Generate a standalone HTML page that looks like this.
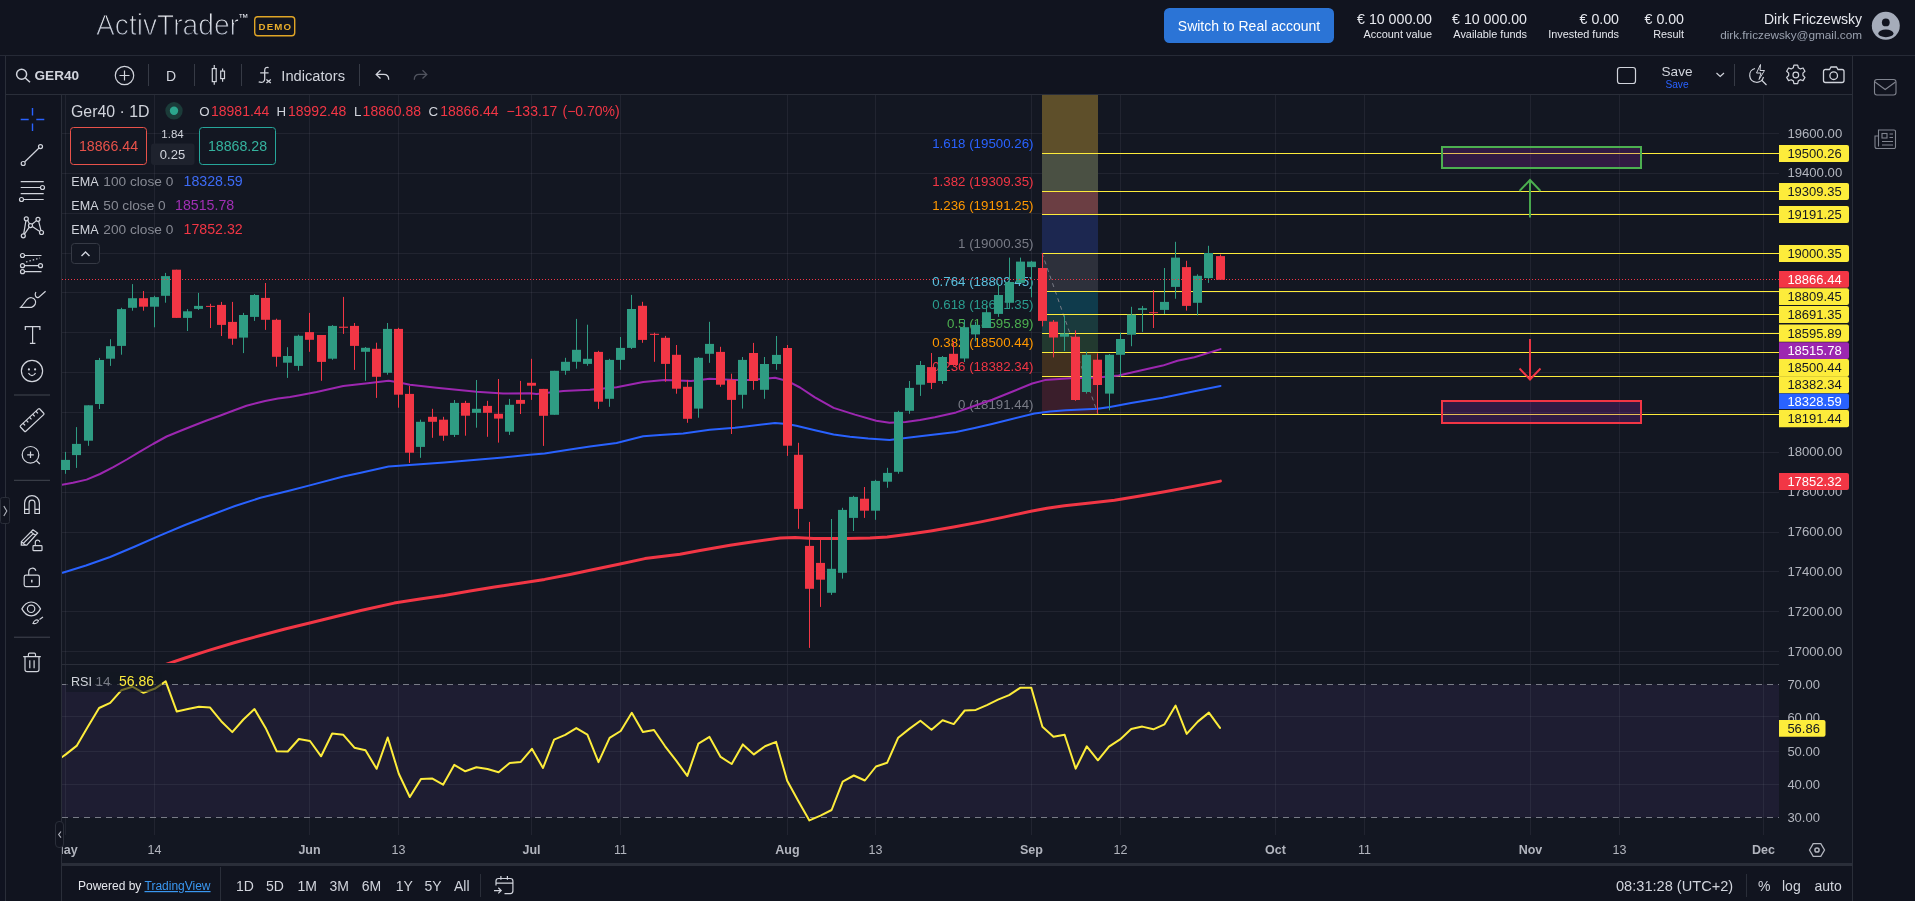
<!DOCTYPE html>
<html lang="en"><head><meta charset="utf-8"><title>ActivTrader</title>
<style>
*{box-sizing:border-box;margin:0;padding:0}
html,body{width:1915px;height:901px;overflow:hidden;background:#131722;font-family:"Liberation Sans", sans-serif;color:#d1d4dc}
.abs{position:absolute}
#hdr{position:absolute;left:0;top:0;width:1915px;height:56px;background:#11141f;border-bottom:1px solid #262a36}
#tb{position:absolute;left:5px;top:56px;width:1847px;height:39px;background:#11141f;border-bottom:1px solid #2a2e39;border-left:1px solid #2a2e39}
#gut{position:absolute;left:0;top:56px;width:5px;height:845px;background:#101320}
#lt{position:absolute;left:5px;top:95px;width:57px;height:806px;background:#11141f;border-left:1px solid #2a2e39;border-right:1px solid #2a2e39}
#rs{position:absolute;left:1852px;top:56px;width:63px;height:845px;background:#10131e;border-left:1px solid #2a2e39}
#bb{position:absolute;left:61px;top:863px;width:1791px;height:38px;background:#11141f;border-top:3px solid #2a2e39;border-left:1px solid #2a2e39}
svg.chart{position:absolute;left:0;top:0;will-change:transform}
svg.ui{position:absolute;left:0;top:0;pointer-events:none;will-change:transform}
.t{position:absolute;white-space:nowrap}
</style></head><body>
<div id="hdr"></div><div id="gut"></div><div id="tb"></div><div id="lt"></div>
<svg class="chart" width="1915" height="901" viewBox="0 0 1915 901" font-family='"Liberation Sans", sans-serif' shape-rendering="auto"><line x1="62" x2="1779" y1="651.5" y2="651.5" stroke="#9da1ae" stroke-opacity="0.1"/>
<line x1="62" x2="1779" y1="611.5" y2="611.5" stroke="#9da1ae" stroke-opacity="0.1"/>
<line x1="62" x2="1779" y1="571.5" y2="571.5" stroke="#9da1ae" stroke-opacity="0.1"/>
<line x1="62" x2="1779" y1="532.5" y2="532.5" stroke="#9da1ae" stroke-opacity="0.1"/>
<line x1="62" x2="1779" y1="492.5" y2="492.5" stroke="#9da1ae" stroke-opacity="0.1"/>
<line x1="62" x2="1779" y1="452.5" y2="452.5" stroke="#9da1ae" stroke-opacity="0.1"/>
<line x1="62" x2="1779" y1="412.5" y2="412.5" stroke="#9da1ae" stroke-opacity="0.1"/>
<line x1="62" x2="1779" y1="372.5" y2="372.5" stroke="#9da1ae" stroke-opacity="0.1"/>
<line x1="62" x2="1779" y1="332.5" y2="332.5" stroke="#9da1ae" stroke-opacity="0.1"/>
<line x1="62" x2="1779" y1="292.5" y2="292.5" stroke="#9da1ae" stroke-opacity="0.1"/>
<line x1="62" x2="1779" y1="253.5" y2="253.5" stroke="#9da1ae" stroke-opacity="0.1"/>
<line x1="62" x2="1779" y1="213.5" y2="213.5" stroke="#9da1ae" stroke-opacity="0.1"/>
<line x1="62" x2="1779" y1="173.5" y2="173.5" stroke="#9da1ae" stroke-opacity="0.1"/>
<line x1="62" x2="1779" y1="133.5" y2="133.5" stroke="#9da1ae" stroke-opacity="0.1"/>
<rect x="62" y="684.5" width="1717" height="133" fill="#7e57c2" fill-opacity="0.1"/>
<line x1="62" x2="1779" y1="716.5" y2="716.5" stroke="#9da1ae" stroke-opacity="0.1"/>
<line x1="62" x2="1779" y1="751.5" y2="751.5" stroke="#9da1ae" stroke-opacity="0.1"/>
<line x1="62" x2="1779" y1="784.5" y2="784.5" stroke="#9da1ae" stroke-opacity="0.1"/>
<line x1="65.5" x2="65.5" y1="95" y2="835" stroke="#9da1ae" stroke-opacity="0.1"/>
<line x1="154.5" x2="154.5" y1="95" y2="835" stroke="#9da1ae" stroke-opacity="0.1"/>
<line x1="309.5" x2="309.5" y1="95" y2="835" stroke="#9da1ae" stroke-opacity="0.1"/>
<line x1="398.5" x2="398.5" y1="95" y2="835" stroke="#9da1ae" stroke-opacity="0.1"/>
<line x1="531.5" x2="531.5" y1="95" y2="835" stroke="#9da1ae" stroke-opacity="0.1"/>
<line x1="620.5" x2="620.5" y1="95" y2="835" stroke="#9da1ae" stroke-opacity="0.1"/>
<line x1="787.5" x2="787.5" y1="95" y2="835" stroke="#9da1ae" stroke-opacity="0.1"/>
<line x1="875.5" x2="875.5" y1="95" y2="835" stroke="#9da1ae" stroke-opacity="0.1"/>
<line x1="1031.5" x2="1031.5" y1="95" y2="835" stroke="#9da1ae" stroke-opacity="0.1"/>
<line x1="1120.5" x2="1120.5" y1="95" y2="835" stroke="#9da1ae" stroke-opacity="0.1"/>
<line x1="1275.5" x2="1275.5" y1="95" y2="835" stroke="#9da1ae" stroke-opacity="0.1"/>
<line x1="1364.5" x2="1364.5" y1="95" y2="835" stroke="#9da1ae" stroke-opacity="0.1"/>
<line x1="1530.5" x2="1530.5" y1="95" y2="835" stroke="#9da1ae" stroke-opacity="0.1"/>
<line x1="1619.5" x2="1619.5" y1="95" y2="835" stroke="#9da1ae" stroke-opacity="0.1"/>
<line x1="1763.5" x2="1763.5" y1="95" y2="835" stroke="#9da1ae" stroke-opacity="0.1"/>
<line x1="62" x2="1779" y1="684.5" y2="684.5" stroke="#787b86" stroke-dasharray="6 5"/>
<line x1="62" x2="1779" y1="817.5" y2="817.5" stroke="#787b86" stroke-dasharray="6 5"/>
<rect x="1042" y="95" width="56" height="58.5" fill="#5e4f2a"/>
<rect x="1042" y="153.5" width="56" height="38" fill="#4a5043"/>
<rect x="1042" y="191.5" width="56" height="23" fill="#6b3e43"/>
<rect x="1042" y="214.5" width="56" height="39" fill="#1c2750"/>
<rect x="1042" y="253.5" width="56" height="38" fill="#2d303b"/>
<rect x="1042" y="291.5" width="56" height="23" fill="#0f3b4c"/>
<rect x="1042" y="314.5" width="56" height="19" fill="#1a3a3d"/>
<rect x="1042" y="333.5" width="56" height="19" fill="#22392f"/>
<rect x="1042" y="352.5" width="56" height="24" fill="#41301f"/>
<rect x="1042" y="376.5" width="56" height="38" fill="#3a1e2b"/>
<line x1="1042" y1="253" x2="1098" y2="414.2" stroke="#787b86" stroke-dasharray="4 4"/>
<line x1="1042" x2="1779" y1="153.5" y2="153.5" stroke="#fdec3b" stroke-width="1.15"/>
<line x1="1042" x2="1779" y1="191.5" y2="191.5" stroke="#fdec3b" stroke-width="1.15"/>
<line x1="1042" x2="1779" y1="214.5" y2="214.5" stroke="#fdec3b" stroke-width="1.15"/>
<line x1="1042" x2="1779" y1="253.5" y2="253.5" stroke="#fdec3b" stroke-width="1.15"/>
<line x1="1042" x2="1779" y1="291.5" y2="291.5" stroke="#fdec3b" stroke-width="1.15"/>
<line x1="1042" x2="1779" y1="314.5" y2="314.5" stroke="#fdec3b" stroke-width="1.15"/>
<line x1="1042" x2="1779" y1="333.5" y2="333.5" stroke="#fdec3b" stroke-width="1.15"/>
<line x1="1042" x2="1779" y1="352.5" y2="352.5" stroke="#fdec3b" stroke-width="1.15"/>
<line x1="1042" x2="1779" y1="376.5" y2="376.5" stroke="#fdec3b" stroke-width="1.15"/>
<line x1="1042" x2="1779" y1="414.5" y2="414.5" stroke="#fdec3b" stroke-width="1.15"/>
<text x="1033.5" y="148.4" fill="#2962ff" font-size="13.3" text-anchor="end">1.618 (19500.26)</text>
<text x="1033.5" y="186.4" fill="#f23645" font-size="13.3" text-anchor="end">1.382 (19309.35)</text>
<text x="1033.5" y="209.9" fill="#ff9800" font-size="13.3" text-anchor="end">1.236 (19191.25)</text>
<text x="1033.5" y="248" fill="#787b86" font-size="13.3" text-anchor="end">1 (19000.35)</text>
<text x="1033.5" y="286" fill="#5bc0de" font-size="13.3" text-anchor="end">0.764 (18809.45)</text>
<text x="1033.5" y="308.6" fill="#2a9d8f" font-size="13.3" text-anchor="end">0.618 (18691.35)</text>
<text x="1033.5" y="327.7" fill="#4caf50" font-size="13.3" text-anchor="end">0.5 (18595.89)</text>
<text x="1033.5" y="346.7" fill="#ff9800" font-size="13.3" text-anchor="end">0.382 (18500.44)</text>
<text x="1033.5" y="371.1" fill="#f23645" font-size="13.3" text-anchor="end">0.236 (18382.34)</text>
<text x="1033.5" y="409.2" fill="#787b86" font-size="13.3" text-anchor="end">0 (18191.44)</text>
<rect x="1442" y="147" width="199" height="21" fill="#9c27b0" fill-opacity="0.23" stroke="#4caf50" stroke-width="2"/>
<rect x="1442" y="401" width="199" height="22" fill="#9c27b0" fill-opacity="0.23" stroke="#f23645" stroke-width="2"/>
<path d="M1530 217.5V180M1519.5 191L1530 180L1540.5 191" fill="none" stroke="#4caf50" stroke-width="1.9"/>
<path d="M1530 339V379.5M1519.5 368.5L1530 379.5L1540.5 368.5" fill="none" stroke="#f23645" stroke-width="1.9"/>
<clipPath id="mp"><rect x="62" y="95" width="1717" height="568"/></clipPath>
<g clip-path="url(#mp)">
<polyline points="60,485 73,482.8 86.6,479.6 100,474 113.3,467.1 126.8,459.5 139.9,451.7 153,444 166.6,436.5 180,431 193.2,425.8 206,420.8 219.8,415.7 233,410.7 246.5,405.8 258,402.7 265.1,401 278,398.6 290,397 299.7,395.2 316.6,392 343.3,386 369.9,383 388.6,380.8 398,382.3 409.9,384.8 436.5,387.7 476.5,391.7 503.1,393.6 529.7,393.3 536.6,394 563.3,391 589.9,389.7 616.6,387.3 643.2,382 664.5,379.9 691.1,380.9 709.8,378.8 735,379.9 749.7,379.9 775,377.8 788.3,381.3 800,387.5 814.9,397.3 833.6,407.9 854.9,414.6 876.2,420.7 889.5,422.8 905.5,422 920,420 934.8,417.2 956.1,412.4 974.7,405.8 992.2,399.8 1013.3,391.3 1032.2,383.5 1044.9,380.1 1070.2,378.2 1097.6,377.6 1118.7,375.5 1141.6,370.2 1162.7,365.6 1177.5,360.7 1194.4,357.2 1220.5,349.1" fill="none" stroke="#9c27b0" stroke-width="2" stroke-linejoin="round" stroke-linecap="round"/>
<polyline points="62.7,572.7 86,565.5 110.1,557 135,546.5 160.3,535.3 185,525 210.4,515.2 235,506 260.5,497.8 290,490.5 310.7,485.1 343.3,476.5 360.8,472.8 388.6,466.6 399.2,465.8 420,464.3 444.4,462.6 476.5,459.7 503.1,457.5 529.7,454.8 544.6,453.4 570,449.5 589.9,446.5 616.6,443 643.2,436.3 660,435 683.2,433.4 709.8,429.7 735,427.7 749.7,425.9 775,423.1 787,424 796.3,425.8 815,430.3 833.6,434.5 850,436.8 868.2,438.5 889.5,439.9 905.5,438 920,436.3 934.8,434.5 956.1,431.9 974.7,427.9 992,424 1009,419.8 1034.4,413.5 1050,411.6 1066,410.3 1097.6,408.8 1110,406.9 1131.1,402.9 1162.7,397.7 1194.4,391.3 1220.5,386" fill="none" stroke="#2962ff" stroke-width="2" stroke-linejoin="round" stroke-linecap="round"/>
<polyline points="160,666 165.3,664.6 185,658 210.4,649.9 235,642.5 260.5,635.5 285,629 310.7,622.8 335,616.7 360.8,610.5 394.2,603.1 420,599 444.4,595.4 470,591 494.5,587.1 520,583.3 544.6,579.4 570,574.5 594.8,569.3 620,564 644.9,558.6 680,554.3 700,550.5 730.1,545.3 755,541.5 780.3,537.9 795,537.6 813.7,538.4 847.1,538.6 870,537.9 887.2,536.9 910,534 930.7,530.9 955,526.8 980.8,521.9 1005,516.9 1030.9,511.2 1047,508.3 1064.4,505.8 1090,502.9 1114.5,500.2 1140,496 1164.6,491.8 1192,486.6 1220.4,481.1" fill="none" stroke="#f23645" stroke-width="3" stroke-linejoin="round" stroke-linecap="round"/>
</g>
<rect x="65" y="451.9" width="1" height="21.9" fill="#2f9c83"/><rect x="61" y="459.9" width="9" height="10.1" fill="#2f9c83"/>
<rect x="76" y="427.1" width="1" height="40.8" fill="#2f9c83"/><rect x="72" y="443.9" width="9" height="11.2" fill="#2f9c83"/>
<rect x="88" y="405.3" width="1" height="40.5" fill="#2f9c83"/><rect x="84" y="405.3" width="9" height="35.4" fill="#2f9c83"/>
<rect x="99" y="357.9" width="1" height="51.1" fill="#2f9c83"/><rect x="95" y="360" width="9" height="44" fill="#2f9c83"/>
<rect x="110" y="339.2" width="1" height="26.7" fill="#2f9c83"/><rect x="106" y="346.2" width="9" height="12.5" fill="#2f9c83"/>
<rect x="121" y="307.8" width="1" height="46.9" fill="#2f9c83"/><rect x="117" y="309.1" width="9" height="36.8" fill="#2f9c83"/>
<rect x="132" y="284.1" width="1" height="26.6" fill="#2f9c83"/><rect x="128" y="298.2" width="9" height="9.6" fill="#2f9c83"/>
<rect x="143" y="291" width="1" height="19.7" fill="#f23645"/><rect x="139" y="298.2" width="9" height="8.5" fill="#f23645"/>
<rect x="154" y="295.8" width="1" height="31.5" fill="#2f9c83"/><rect x="150" y="297.1" width="9" height="9.6" fill="#2f9c83"/>
<rect x="165" y="272.9" width="1" height="29.8" fill="#2f9c83"/><rect x="161" y="276.1" width="9" height="19.7" fill="#2f9c83"/>
<rect x="176" y="269.7" width="1" height="48.2" fill="#f23645"/><rect x="172" y="269.7" width="9" height="48.2" fill="#f23645"/>
<rect x="187" y="309.1" width="1" height="21.9" fill="#2f9c83"/><rect x="183" y="311.3" width="9" height="6.6" fill="#2f9c83"/>
<rect x="198" y="292.9" width="1" height="17" fill="#2f9c83"/><rect x="194" y="305.9" width="9" height="3" fill="#2f9c83"/>
<rect x="210" y="303.8" width="1" height="24.2" fill="#f23645"/><rect x="206" y="305.9" width="9" height="1" fill="#f23645"/>
<rect x="221" y="301.9" width="1" height="34.1" fill="#f23645"/><rect x="217" y="304.9" width="9" height="20" fill="#f23645"/>
<rect x="232" y="301.9" width="1" height="42.9" fill="#f23645"/><rect x="228" y="321.9" width="9" height="16.8" fill="#f23645"/>
<rect x="243" y="312.9" width="1" height="40.2" fill="#2f9c83"/><rect x="239" y="315" width="9" height="22.6" fill="#2f9c83"/>
<rect x="254" y="294" width="1" height="26.9" fill="#2f9c83"/><rect x="250" y="295" width="9" height="21.9" fill="#2f9c83"/>
<rect x="265" y="283" width="1" height="46.9" fill="#f23645"/><rect x="261" y="297.9" width="9" height="21.9" fill="#f23645"/>
<rect x="276" y="318.7" width="1" height="48" fill="#f23645"/><rect x="272" y="319.8" width="9" height="37" fill="#f23645"/>
<rect x="287" y="347.2" width="1" height="30.7" fill="#2f9c83"/><rect x="283" y="356" width="9" height="6.7" fill="#2f9c83"/>
<rect x="298" y="334.7" width="1" height="36" fill="#2f9c83"/><rect x="294" y="335.8" width="9" height="30.1" fill="#2f9c83"/>
<rect x="309" y="312.9" width="1" height="38.9" fill="#f23645"/><rect x="305" y="332.1" width="9" height="7.7" fill="#f23645"/>
<rect x="321" y="335" width="1" height="45.8" fill="#f23645"/><rect x="317" y="335" width="9" height="26.9" fill="#f23645"/>
<rect x="332" y="325.1" width="1" height="34.7" fill="#2f9c83"/><rect x="328" y="325.9" width="9" height="32.8" fill="#2f9c83"/>
<rect x="343" y="296.9" width="1" height="37" fill="#f23645"/><rect x="339" y="326.7" width="9" height="1.1" fill="#f23645"/>
<rect x="354" y="323" width="1" height="46.9" fill="#f23645"/><rect x="350" y="325.9" width="9" height="20" fill="#f23645"/>
<rect x="365" y="347" width="1" height="33.8" fill="#2f9c83"/><rect x="361" y="347.8" width="9" height="4" fill="#2f9c83"/>
<rect x="376" y="342.7" width="1" height="55.2" fill="#f23645"/><rect x="372" y="348.8" width="9" height="28" fill="#f23645"/>
<rect x="387" y="323" width="1" height="51.7" fill="#2f9c83"/><rect x="383" y="328.9" width="9" height="43.9" fill="#2f9c83"/>
<rect x="398" y="327.8" width="1" height="79.9" fill="#f23645"/><rect x="394" y="328.9" width="9" height="65.8" fill="#f23645"/>
<rect x="409" y="385.9" width="1" height="77" fill="#f23645"/><rect x="405" y="393.9" width="9" height="58.8" fill="#f23645"/>
<rect x="420" y="419.7" width="1" height="38.1" fill="#2f9c83"/><rect x="416" y="421.8" width="9" height="25.1" fill="#2f9c83"/>
<rect x="432" y="408.8" width="1" height="29" fill="#f23645"/><rect x="428" y="416.8" width="9" height="5" fill="#f23645"/>
<rect x="443" y="416.8" width="1" height="24" fill="#f23645"/><rect x="439" y="419.7" width="9" height="16" fill="#f23645"/>
<rect x="454" y="400" width="1" height="37" fill="#2f9c83"/><rect x="450" y="402.9" width="9" height="32" fill="#2f9c83"/>
<rect x="465" y="400.8" width="1" height="34.9" fill="#f23645"/><rect x="461" y="402.9" width="9" height="12.8" fill="#f23645"/>
<rect x="476" y="380" width="1" height="47.7" fill="#2f9c83"/><rect x="472" y="408.8" width="9" height="4" fill="#2f9c83"/>
<rect x="487" y="400.8" width="1" height="36" fill="#f23645"/><rect x="483" y="405.9" width="9" height="6.9" fill="#f23645"/>
<rect x="498" y="379" width="1" height="63.6" fill="#f23645"/><rect x="494" y="413.8" width="9" height="4.8" fill="#f23645"/>
<rect x="509" y="398.9" width="1" height="36" fill="#2f9c83"/><rect x="505" y="404.8" width="9" height="26.9" fill="#2f9c83"/>
<rect x="520" y="380.9" width="1" height="33.1" fill="#f23645"/><rect x="516" y="399.9" width="9" height="3.9" fill="#f23645"/>
<rect x="531" y="358.8" width="1" height="41.1" fill="#f23645"/><rect x="527" y="382.8" width="9" height="2.9" fill="#f23645"/>
<rect x="543" y="388.9" width="1" height="57" fill="#f23645"/><rect x="539" y="388.9" width="9" height="26.9" fill="#f23645"/>
<rect x="554" y="370.8" width="1" height="44" fill="#2f9c83"/><rect x="550" y="370.8" width="9" height="44" fill="#2f9c83"/>
<rect x="565" y="357.8" width="1" height="17" fill="#2f9c83"/><rect x="561" y="361.8" width="9" height="9" fill="#2f9c83"/>
<rect x="576" y="318.9" width="1" height="49.8" fill="#2f9c83"/><rect x="572" y="349.8" width="9" height="12" fill="#2f9c83"/>
<rect x="587" y="324.7" width="1" height="41.1" fill="#2f9c83"/><rect x="583" y="358.8" width="9" height="5.1" fill="#2f9c83"/>
<rect x="598" y="350.8" width="1" height="58.1" fill="#f23645"/><rect x="594" y="351.9" width="9" height="49.8" fill="#f23645"/>
<rect x="609" y="358.8" width="1" height="48" fill="#2f9c83"/><rect x="605" y="359.9" width="9" height="38.9" fill="#2f9c83"/>
<rect x="620" y="337" width="1" height="32.8" fill="#2f9c83"/><rect x="616" y="347.9" width="9" height="12" fill="#2f9c83"/>
<rect x="631" y="294.9" width="1" height="54.1" fill="#2f9c83"/><rect x="627" y="309" width="9" height="38.9" fill="#2f9c83"/>
<rect x="642" y="301.8" width="1" height="41" fill="#f23645"/><rect x="638" y="305.8" width="9" height="34.1" fill="#f23645"/>
<rect x="654" y="332.7" width="1" height="29.1" fill="#f23645"/><rect x="650" y="333.8" width="9" height="1.1" fill="#f23645"/>
<rect x="665" y="335.9" width="1" height="45.8" fill="#f23645"/><rect x="661" y="337.8" width="9" height="26.1" fill="#f23645"/>
<rect x="676" y="345" width="1" height="48.7" fill="#f23645"/><rect x="672" y="354.8" width="9" height="33.9" fill="#f23645"/>
<rect x="687" y="379.9" width="1" height="42.9" fill="#f23645"/><rect x="683" y="386.8" width="9" height="32" fill="#f23645"/>
<rect x="698" y="357" width="1" height="60.7" fill="#2f9c83"/><rect x="694" y="357.8" width="9" height="50.8" fill="#2f9c83"/>
<rect x="709" y="321.8" width="1" height="41" fill="#2f9c83"/><rect x="705" y="343.9" width="9" height="9.9" fill="#2f9c83"/>
<rect x="720" y="346.8" width="1" height="40" fill="#f23645"/><rect x="716" y="351.9" width="9" height="32.8" fill="#f23645"/>
<rect x="731" y="373.7" width="1" height="60.3" fill="#f23645"/><rect x="727" y="379.9" width="9" height="20" fill="#f23645"/>
<rect x="742" y="357" width="1" height="51.6" fill="#2f9c83"/><rect x="738" y="359.9" width="9" height="34.9" fill="#2f9c83"/>
<rect x="753" y="342.9" width="1" height="46.9" fill="#f23645"/><rect x="749" y="353" width="9" height="28" fill="#f23645"/>
<rect x="764" y="357" width="1" height="41.8" fill="#2f9c83"/><rect x="760" y="364" width="9" height="25.8" fill="#2f9c83"/>
<rect x="776" y="336" width="1" height="33.8" fill="#2f9c83"/><rect x="772" y="354.9" width="9" height="9.1" fill="#2f9c83"/>
<rect x="787" y="345" width="1" height="110.9" fill="#f23645"/><rect x="783" y="348" width="9" height="97.7" fill="#f23645"/>
<rect x="798" y="442.8" width="1" height="86" fill="#f23645"/><rect x="794" y="454.8" width="9" height="54.1" fill="#f23645"/>
<rect x="809" y="521.9" width="1" height="126" fill="#f23645"/><rect x="805" y="545.9" width="9" height="42.9" fill="#f23645"/>
<rect x="820" y="539" width="1" height="67.9" fill="#f23645"/><rect x="816" y="562.9" width="9" height="16.8" fill="#f23645"/>
<rect x="831" y="519" width="1" height="75.9" fill="#2f9c83"/><rect x="827" y="568.8" width="9" height="24" fill="#2f9c83"/>
<rect x="842" y="507.8" width="1" height="70.8" fill="#2f9c83"/><rect x="838" y="509.9" width="9" height="62.9" fill="#2f9c83"/>
<rect x="853" y="495.8" width="1" height="35.2" fill="#2f9c83"/><rect x="849" y="496.9" width="9" height="21" fill="#2f9c83"/>
<rect x="864" y="487" width="1" height="30.9" fill="#f23645"/><rect x="860" y="498.7" width="9" height="12" fill="#f23645"/>
<rect x="875" y="479.8" width="1" height="40" fill="#2f9c83"/><rect x="871" y="480.9" width="9" height="29.8" fill="#2f9c83"/>
<rect x="887" y="467.8" width="1" height="20" fill="#2f9c83"/><rect x="883" y="472.9" width="9" height="8.8" fill="#2f9c83"/>
<rect x="898" y="410.8" width="1" height="62.9" fill="#2f9c83"/><rect x="894" y="411.9" width="9" height="59.9" fill="#2f9c83"/>
<rect x="909" y="381" width="1" height="32.8" fill="#2f9c83"/><rect x="905" y="387.9" width="9" height="22.9" fill="#2f9c83"/>
<rect x="920" y="361" width="1" height="34.9" fill="#2f9c83"/><rect x="916" y="365" width="9" height="19.7" fill="#2f9c83"/>
<rect x="931" y="353" width="1" height="36" fill="#f23645"/><rect x="927" y="367.1" width="9" height="15.8" fill="#f23645"/>
<rect x="942" y="356" width="1" height="27.9" fill="#2f9c83"/><rect x="938" y="357" width="9" height="24" fill="#2f9c83"/>
<rect x="953" y="341" width="1" height="24.8" fill="#f23645"/><rect x="949" y="353.8" width="9" height="11.2" fill="#f23645"/>
<rect x="964" y="320" width="1" height="42" fill="#2f9c83"/><rect x="960" y="327.2" width="9" height="31.3" fill="#2f9c83"/>
<rect x="975" y="321.7" width="1" height="19.6" fill="#2f9c83"/><rect x="971" y="324.9" width="9" height="9.5" fill="#2f9c83"/>
<rect x="986" y="306" width="1" height="22" fill="#2f9c83"/><rect x="982" y="312.2" width="9" height="15.8" fill="#2f9c83"/>
<rect x="998" y="283.8" width="1" height="33.1" fill="#2f9c83"/><rect x="994" y="295" width="9" height="18.9" fill="#2f9c83"/>
<rect x="1009" y="257.6" width="1" height="51.4" fill="#2f9c83"/><rect x="1005" y="282" width="9" height="20.8" fill="#2f9c83"/>
<rect x="1020" y="257.6" width="1" height="25.4" fill="#2f9c83"/><rect x="1016" y="261.6" width="9" height="21.3" fill="#2f9c83"/>
<rect x="1031" y="260.8" width="1" height="36.5" fill="#2f9c83"/><rect x="1027" y="261.6" width="9" height="5.5" fill="#2f9c83"/>
<rect x="1042" y="253" width="1" height="73.4" fill="#f23645"/><rect x="1038" y="268" width="9" height="52.9" fill="#f23645"/>
<rect x="1053" y="320" width="1" height="37.4" fill="#f23645"/><rect x="1049" y="321.7" width="9" height="15.8" fill="#f23645"/>
<rect x="1064" y="315.4" width="1" height="35.6" fill="#2f9c83"/><rect x="1060" y="333.5" width="9" height="3.2" fill="#2f9c83"/>
<rect x="1075" y="330.4" width="1" height="70.4" fill="#f23645"/><rect x="1071" y="336.7" width="9" height="63.3" fill="#f23645"/>
<rect x="1086" y="351.7" width="1" height="41.9" fill="#2f9c83"/><rect x="1082" y="354.8" width="9" height="37.2" fill="#2f9c83"/>
<rect x="1097" y="353.4" width="1" height="60.1" fill="#f23645"/><rect x="1093" y="359.7" width="9" height="25.3" fill="#f23645"/>
<rect x="1109" y="354" width="1" height="56.3" fill="#2f9c83"/><rect x="1105" y="354.8" width="9" height="38.8" fill="#2f9c83"/>
<rect x="1120" y="332.7" width="1" height="44.3" fill="#2f9c83"/><rect x="1116" y="339" width="9" height="15.8" fill="#2f9c83"/>
<rect x="1131" y="306.8" width="1" height="39.4" fill="#2f9c83"/><rect x="1127" y="314.6" width="9" height="20.1" fill="#2f9c83"/>
<rect x="1142" y="305.9" width="1" height="26" fill="#2f9c83"/><rect x="1138" y="308.2" width="9" height="1.7" fill="#2f9c83"/>
<rect x="1153" y="290.1" width="1" height="37.9" fill="#f23645"/><rect x="1149" y="312.2" width="9" height="1" fill="#f23645"/>
<rect x="1164" y="268" width="1" height="45.9" fill="#2f9c83"/><rect x="1160" y="301.9" width="9" height="8" fill="#2f9c83"/>
<rect x="1175" y="241.8" width="1" height="56.9" fill="#2f9c83"/><rect x="1171" y="257.6" width="9" height="29.3" fill="#2f9c83"/>
<rect x="1186" y="260.8" width="1" height="49.8" fill="#f23645"/><rect x="1182" y="267.1" width="9" height="38.8" fill="#f23645"/>
<rect x="1197" y="274.3" width="1" height="41.1" fill="#2f9c83"/><rect x="1193" y="275.8" width="9" height="27" fill="#2f9c83"/>
<rect x="1208" y="245.8" width="1" height="37.1" fill="#2f9c83"/><rect x="1204" y="253" width="9" height="25.1" fill="#2f9c83"/>
<rect x="1220" y="254.5" width="1" height="25.3" fill="#f23645"/><rect x="1216" y="256.1" width="9" height="23.7" fill="#f23645"/>
<line x1="62" x2="1779" y1="279.5" y2="279.5" stroke="#f23645" stroke-dasharray="1 2"/>
<clipPath id="rp"><rect x="62" y="665" width="1717" height="171"/></clipPath><g clip-path="url(#rp)">
<polyline points="54.7,762.3 65.8,754.4 76.9,745.6 88,726.4 99.1,708 110.2,702.8 121.3,690.3 132.4,686.7 143.5,692.8 154.6,688.8 165.7,681.3 176.8,711.6 187.9,709.1 199,706.8 210.1,707.6 221.2,721.2 232.3,732.1 243.4,719.5 254.5,709.1 265.6,727.9 276.7,751.3 287.8,751.5 298.9,739 310,741 321.1,756.3 332.2,733.5 343.3,734.8 354.4,747.7 365.5,750.2 376.6,768.8 387.7,737.5 398.8,773.8 409.8,797 420.9,779.1 432,778.4 443.1,784.7 454.2,764.9 465.3,771.3 476.4,767.2 487.5,769 498.6,772.2 509.7,763 520.8,761.9 531.9,748.8 543,768 554.1,739.6 565.2,734.8 576.3,728.1 587.4,734.6 598.5,762.1 609.6,737.9 620.7,731 631.8,712.8 642.9,732.1 654,730 665.1,746.3 676.2,760.7 687.3,775.9 698.4,743.6 709.5,736.9 720.6,756.9 731.7,764 742.8,744.4 753.9,754.4 765,746.3 776.1,741.9 787.2,780.7 798.3,801 809.4,820.4 820.5,815.6 831.6,810 842.7,781.6 853.8,775.5 864.9,780.5 876,766.5 887.1,762.8 898.2,737.7 909.3,728.9 920.4,720.8 931.5,729.8 942.6,720.2 953.7,724.1 964.7,710.5 975.8,709.9 986.9,705.1 998,699.7 1009.1,695.1 1020.2,687.8 1031.3,687.8 1042.4,726.8 1053.5,736.7 1064.6,734.8 1075.7,768.6 1086.8,746.3 1097.9,760.3 1109,746.7 1120.1,739.4 1131.2,729.1 1142.3,726.6 1153.4,729.3 1164.5,724.3 1175.6,705.5 1186.7,733.9 1197.8,721.6 1208.9,712.6 1220,727.9" fill="none" stroke="#fdec3b" stroke-width="2" stroke-linejoin="round" stroke-linecap="round"/>
</g>
<rect x="66" y="672" width="96" height="20" fill="#131722" fill-opacity="0.6"/>
<text y="686" font-size="12.6" fill="#d1d4dc"><tspan x="71">RSI</tspan><tspan x="95.5" fill="#787b86" font-size="13.6">14</tspan><tspan x="119" fill="#fdec3b" font-size="14">56.86</tspan></text>
<rect x="62" y="664" width="1791" height="1" fill="#2a2e39"/>
<rect x="1779" y="95" width="74" height="568" fill="#131722"/>
<rect x="1779" y="664" width="74" height="172" fill="#131722"/>
<text x="1787.4" y="138.1" font-size="13.15" fill="#b2b5be">19600.00</text>
<text x="1787.4" y="176.9" font-size="13.15" fill="#b2b5be">19400.00</text>
<text x="1787.4" y="455.9" font-size="13.15" fill="#b2b5be">18000.00</text>
<text x="1787.4" y="495.8" font-size="13.15" fill="#b2b5be">17800.00</text>
<text x="1787.4" y="535.6" font-size="13.15" fill="#b2b5be">17600.00</text>
<text x="1787.4" y="575.5" font-size="13.15" fill="#b2b5be">17400.00</text>
<text x="1787.4" y="616.3" font-size="13.15" fill="#b2b5be">17200.00</text>
<text x="1787.4" y="656.2" font-size="13.15" fill="#b2b5be">17000.00</text>
<text x="1787.4" y="689.2" font-size="13" fill="#b2b5be">70.00</text>
<text x="1787.4" y="721.6" font-size="13" fill="#b2b5be">60.00</text>
<text x="1787.4" y="755.8" font-size="13" fill="#b2b5be">50.00</text>
<text x="1787.4" y="789" font-size="13" fill="#b2b5be">40.00</text>
<text x="1787.4" y="821.9" font-size="13" fill="#b2b5be">30.00</text>
<path d="M1779 145.1h68a2 2 0 0 1 2 2v12.8a2 2 0 0 1-2 2h-68z" fill="#fdec3b"/><text x="1787.4" y="158.1" font-size="13" fill="#131722">19500.26</text>
<path d="M1779 183.1h68a2 2 0 0 1 2 2v12.8a2 2 0 0 1-2 2h-68z" fill="#fdec3b"/><text x="1787.4" y="196.1" font-size="13" fill="#131722">19309.35</text>
<path d="M1779 206.1h68a2 2 0 0 1 2 2v12.8a2 2 0 0 1-2 2h-68z" fill="#fdec3b"/><text x="1787.4" y="219.1" font-size="13" fill="#131722">19191.25</text>
<path d="M1779 245.1h68a2 2 0 0 1 2 2v12.8a2 2 0 0 1-2 2h-68z" fill="#fdec3b"/><text x="1787.4" y="258.1" font-size="13" fill="#131722">19000.35</text>
<path d="M1779 288.2h68a2 2 0 0 1 2 2v12.8a2 2 0 0 1-2 2h-68z" fill="#fdec3b"/><text x="1787.4" y="301.2" font-size="13" fill="#131722">18809.45</text>
<path d="M1779 305.9h68a2 2 0 0 1 2 2v13.2a2 2 0 0 1-2 2h-68z" fill="#fdec3b"/><text x="1787.4" y="319.1" font-size="13" fill="#131722">18691.35</text>
<path d="M1779 324.6h68a2 2 0 0 1 2 2v13.2a2 2 0 0 1-2 2h-68z" fill="#fdec3b"/><text x="1787.4" y="337.8" font-size="13" fill="#131722">18595.89</text>
<path d="M1779 358.9h68a2 2 0 0 1 2 2v13.5a2 2 0 0 1-2 2h-68z" fill="#fdec3b"/><text x="1787.4" y="372.3" font-size="13" fill="#131722">18500.44</text>
<path d="M1779 376.3h68a2 2 0 0 1 2 2v13a2 2 0 0 1-2 2h-68z" fill="#fdec3b"/><text x="1787.4" y="389.4" font-size="13" fill="#131722">18382.34</text>
<path d="M1779 410h68a2 2 0 0 1 2 2v13.2a2 2 0 0 1-2 2h-68z" fill="#fdec3b"/><text x="1787.4" y="423.2" font-size="13" fill="#131722">18191.44</text>
<path d="M1779 270.9h68a2 2 0 0 1 2 2v12.8a2 2 0 0 1-2 2h-68z" fill="#f23645"/><text x="1787.4" y="283.9" font-size="13" fill="#ffffff">18866.44</text>
<path d="M1779 342.3h68a2 2 0 0 1 2 2v12.8a2 2 0 0 1-2 2h-68z" fill="#9c27b0"/><text x="1787.4" y="355.3" font-size="13" fill="#ffffff">18515.78</text>
<path d="M1779 393.6h68a2 2 0 0 1 2 2v11.5a2 2 0 0 1-2 2h-68z" fill="#2962ff"/><text x="1787.4" y="406" font-size="13" fill="#ffffff">18328.59</text>
<path d="M1779 473.1h68a2 2 0 0 1 2 2v13a2 2 0 0 1-2 2h-68z" fill="#f23645"/><text x="1787.4" y="486.2" font-size="13" fill="#ffffff">17852.32</text>
<path d="M1779 719.9h44.5a2 2 0 0 1 2 2v12.8a2 2 0 0 1-2 2h-44.5z" fill="#fdec3b"/><text x="1787.4" y="732.9" font-size="13" fill="#131722">56.86</text>
<rect x="62" y="836" width="1791" height="27" fill="#131722"/>
<clipPath id="tp"><rect x="62" y="836" width="1717" height="27"/></clipPath><g clip-path="url(#tp)">
<text x="65.5" y="854" font-size="12.5" fill="#b2b5be" text-anchor="middle" font-weight="bold">May</text>
<text x="154.5" y="854" font-size="12.5" fill="#b2b5be" text-anchor="middle">14</text>
<text x="309.5" y="854" font-size="12.5" fill="#b2b5be" text-anchor="middle" font-weight="bold">Jun</text>
<text x="398.5" y="854" font-size="12.5" fill="#b2b5be" text-anchor="middle">13</text>
<text x="531.5" y="854" font-size="12.5" fill="#b2b5be" text-anchor="middle" font-weight="bold">Jul</text>
<text x="620.5" y="854" font-size="12.5" fill="#b2b5be" text-anchor="middle">11</text>
<text x="787.5" y="854" font-size="12.5" fill="#b2b5be" text-anchor="middle" font-weight="bold">Aug</text>
<text x="875.5" y="854" font-size="12.5" fill="#b2b5be" text-anchor="middle">13</text>
<text x="1031.5" y="854" font-size="12.5" fill="#b2b5be" text-anchor="middle" font-weight="bold">Sep</text>
<text x="1120.5" y="854" font-size="12.5" fill="#b2b5be" text-anchor="middle">12</text>
<text x="1275.5" y="854" font-size="12.5" fill="#b2b5be" text-anchor="middle" font-weight="bold">Oct</text>
<text x="1364.5" y="854" font-size="12.5" fill="#b2b5be" text-anchor="middle">11</text>
<text x="1530.5" y="854" font-size="12.5" fill="#b2b5be" text-anchor="middle" font-weight="bold">Nov</text>
<text x="1619.5" y="854" font-size="12.5" fill="#b2b5be" text-anchor="middle">13</text>
<text x="1763.5" y="854" font-size="12.5" fill="#b2b5be" text-anchor="middle" font-weight="bold">Dec</text>
</g>
<g transform="translate(1817,850)" fill="none" stroke="#b2b5be" stroke-width="1.3"><path d="M-7.5 0L-3.8 -6.3H3.8L7.5 0L3.8 6.3H-3.8Z"/><circle r="2.1" stroke-width="1.5"/></g>
<text x="71" y="117" font-size="15.9" fill="#d1d4dc">Ger40 · 1D</text>
<circle cx="174" cy="110.8" r="8.7" fill="#1b3b39"/><circle cx="174" cy="110.8" r="4.2" fill="#2ca58d"/>
<text y="116" font-size="14" fill="#d1d4dc"><tspan x="199.3" font-size="13.3">O</tspan><tspan x="211" fill="#f23645">18981.44</tspan><tspan x="276.4" font-size="13.3">H</tspan><tspan x="288" fill="#f23645">18992.48</tspan><tspan x="353.9" font-size="13.3">L</tspan><tspan x="362.6" fill="#f23645">18860.88</tspan><tspan x="428.6" font-size="13.3">C</tspan><tspan x="440.2" fill="#f23645">18866.44</tspan><tspan x="506.4" fill="#f23645">−133.17</tspan><tspan x="562.5" fill="#f23645">(−0.70%)</tspan></text>
<rect x="70.5" y="127.5" width="76" height="37" rx="3" fill="#131722" stroke="#e8524a"/>
<text x="108.5" y="151" font-size="14.2" fill="#e8524a" text-anchor="middle">18866.44</text>
<rect x="199.5" y="127.5" width="76" height="37" rx="3" fill="#131722" stroke="#26a69a"/>
<text x="237.5" y="151" font-size="14.2" fill="#35b39e" text-anchor="middle">18868.28</text>
<text x="172.5" y="138" font-size="11.5" fill="#d1d4dc" text-anchor="middle">1.84</text>
<rect x="151" y="143.5" width="43.5" height="21.5" rx="3" fill="#1e222d"/>
<text x="172.5" y="159" font-size="13" fill="#d1d4dc" text-anchor="middle">0.25</text>
<text y="186" font-size="12.6" fill="#d1d4dc"><tspan x="71.3">EMA</tspan><tspan x="103.3" fill="#868993" font-size="13.7">100 close 0</tspan><tspan x="183.5" fill="#3d6bf5" font-size="14.2">18328.59</tspan></text>
<text y="210" font-size="12.6" fill="#d1d4dc"><tspan x="71.3">EMA</tspan><tspan x="103.3" fill="#868993" font-size="13.7">50 close 0</tspan><tspan x="175" fill="#a02fb4" font-size="14.2">18515.78</tspan></text>
<text y="234" font-size="12.6" fill="#d1d4dc"><tspan x="71.3">EMA</tspan><tspan x="103.3" fill="#868993" font-size="13.7">200 close 0</tspan><tspan x="183.5" fill="#f23645" font-size="14.2">17852.32</tspan></text>
<rect x="71.5" y="243.5" width="28" height="20" rx="3" fill="#131722" stroke="#363a45"/>
<path d="M81.5 256L85.5 252L89.5 256" fill="none" stroke="#d1d4dc" stroke-width="1.4"/></svg>
<div id="rs"></div><div id="bb"></div>
<svg class="ui" width="1915" height="901" viewBox="0 0 1915 901" font-family='"Liberation Sans", sans-serif'>
<defs>
<linearGradient id="lg" x1="0" y1="0" x2="0" y2="1"><stop offset="0" stop-color="#ffffff"/><stop offset="1" stop-color="#aab2c4"/></linearGradient>
</defs>
<!-- ===== header ===== -->
<text x="96" y="35.100" font-size="30.400" fill="url(#lg)" stroke="#11141f" stroke-width="1.050" paint-order="fill stroke" textLength="143" lengthAdjust="spacingAndGlyphs">ActivTrader</text>
<text x="238.300" y="21" font-size="10.200" fill="#e6e9f0">™</text>
<rect x="254.7" y="16.7" width="40" height="19" rx="3" fill="none" stroke="#e0a526" stroke-width="1.4"/>
<text x="275.400" y="30.100" font-size="9.700" font-weight="bold" fill="#e8ad2b" text-anchor="middle" letter-spacing="1.200">DEMO</text>

<rect x="1164" y="8" width="170" height="35" rx="5.500" fill="#2b74d6"/>
<text x="1249" y="31" font-size="14" fill="#ffffff" text-anchor="middle">Switch to Real account</text>

<g fill="#e6e8ee" text-anchor="end">
<text x="1432" y="24" font-size="14.200">€ 10 000.00</text>
<text x="1432" y="38" font-size="10.900">Account value</text>
<text x="1527" y="24" font-size="14.200">€ 10 000.00</text>
<text x="1527" y="38" font-size="10.900">Available funds</text>
<text x="1619" y="24" font-size="14.200">€ 0.00</text>
<text x="1619" y="38" font-size="10.900">Invested funds</text>
<text x="1684" y="24" font-size="14.200">€ 0.00</text>
<text x="1684" y="38" font-size="10.900">Result</text>
<text x="1862" y="24" font-size="14">Dirk Friczewsky</text>
<text x="1862" y="39" font-size="11.750" fill="#9aa1af">dirk.friczewsky@gmail.com</text>
</g>
<circle cx="1885.800" cy="25.800" r="14" fill="#a5acba"/>
<circle cx="1885.800" cy="22.400" r="3.900" fill="#11141f"/>
<ellipse cx="1885.900" cy="33.400" rx="7.600" ry="3.800" fill="#11141f"/>

<!-- ===== top toolbar ===== -->
<g fill="none" stroke="#d1d4dc" stroke-width="1.5">
<circle cx="21.6" cy="74.3" r="5"/><path d="M25.3 78L30 82.300"/>
<circle cx="124.500" cy="75.500" r="9.2" stroke-width="1.2"/><path d="M119.500 75.500H129.500M124.500 70.500V80.500" stroke-width="1.2"/>
</g>
<text x="34.5" y="80" font-size="13.6" font-weight="bold" fill="#d1d4dc">GER40</text>
<g stroke="#363a45" stroke-width="1"><path d="M148.500 64V86M194.500 64V86M241.500 64V86M359.500 64V86M1734.500 64V86"/></g>
<text x="171" y="81" font-size="14" fill="#d1d4dc" text-anchor="middle">D</text>
<!-- candle icon -->
<g fill="none" stroke="#d1d4dc" stroke-width="1.2"><rect x="212.300" y="68.600" width="3.900" height="13"/><path d="M214.250 65V68.600M214.250 81.600V84.800"/><rect x="220.700" y="71.100" width="3.800" height="7.500"/><path d="M222.600 68.500V71.100M222.600 78.600V81.700"/></g>
<!-- fx icon -->
<g fill="none" stroke="#d1d4dc" stroke-width="1.3"><path d="M268.600 67.700c-2.400-.900-3.900 .300-3.900 2.700v8.800c0 2.700-2.200 3.800-6 2.700M260.200 72.900h8.400"/><path d="M266.400 79.400l4.400 3.600M270.800 79.400l-4.400 3.600" stroke-width="1.300"/></g>
<text x="281.300" y="81" font-size="14.700" fill="#d1d4dc">Indicators</text>
<!-- undo / redo -->
<g fill="none" stroke-width="1.3"><path d="M380.500 70.300L376.200 74.400L380.500 78.500M376.200 74.400H383.800c3.200 0 4.900 1.900 4.900 5.300" stroke="#d1d4dc"/><path d="M422.500 70.300L426.800 74.400L422.500 78.500M426.800 74.400H419.200c-3.200 0-4.900 1.900-4.900 5.300" stroke="#50535e"/></g>
<!-- right side of toolbar -->
<rect x="1617.500" y="67.500" width="18" height="16" rx="2.500" fill="none" stroke="#d1d4dc" stroke-width="1.200"/>
<text x="1677" y="75.900" font-size="13.600" fill="#d1d4dc" text-anchor="middle">Save</text>
<text x="1677" y="88" font-size="10.200" fill="#2962ff" text-anchor="middle">Save</text>
<path d="M1716.500 73L1720.200 76.500L1724 73" fill="none" stroke="#d1d4dc" stroke-width="1.200"/>
<!-- quick search -->
<g fill="none" stroke="#d1d4dc" stroke-width="1.200"><path d="M1755 68.500a7 7 0 1 0 8.500 8.500M1762 80.500L1766.500 85"/><path d="M1760.500 64.500L1756.500 73H1761L1759 79.500L1764.500 70.500H1760Z" stroke-width="1"/></g>
<!-- gear -->
<g transform="translate(1795.800,75) scale(1.050)" fill="none" stroke="#d1d4dc" stroke-width="1.150"><circle r="2.700"/><path d="M-1.800-9.500h3.600l.6 2.600 2 1.100 2.500-.9 1.800 3.100-1.900 1.800v2.300l1.900 1.800-1.800 3.100-2.500-.9-2 1.100-.6 2.600h-3.600l-.6-2.600-2-1.100-2.500.9-1.800-3.100 1.900-1.800v-2.300l-1.900-1.800 1.800-3.100 2.500.9 2-1.100z" stroke-linejoin="round"/></g>
<!-- camera -->
<g fill="none" stroke="#d1d4dc" stroke-width="1.300"><path d="M1825.500 69.500h4l1.500-2.500h5.500l1.500 2.500h4a2 2 0 0 1 2 2v9a2 2 0 0 1-2 2h-16.500a2 2 0 0 1-2-2v-9a2 2 0 0 1 2.500-2z"/><circle cx="1833.700" cy="75.700" r="3.800"/></g>

<!-- ===== right sidebar ===== -->
<g fill="none" stroke="#80848f" stroke-width="1.100"><rect x="1874.500" y="79.500" width="21.500" height="15.500" rx="2.500"/><path d="M1875 82L1885.200 89.500L1895.500 82"/>
<path d="M1878.500 130h15.500a1.500 1.500 0 0 1 1.500 1.500v15.500a1.500 1.500 0 0 1-1.500 1.500h-17a2 2 0 0 1-2-2v-10.500h3.500z"/><path d="M1878.500 136v10.500"/><rect x="1882" y="133.500" width="5" height="4.500"/><path d="M1889.500 134h3.500M1889.500 137.500h3.500M1882 141.500h11M1882 145h11"/></g>

<!-- ===== left toolbar ===== -->
<g fill="none" stroke="#2962ff" stroke-width="1.400"><path d="M20.700 119.500H28.700M36.300 119.500H44.300M32.500 108V115.500M32.500 123.500V131"/></g>
<g fill="none" stroke="#d1d4dc" stroke-width="1.200">
<!-- trend line -->
<path d="M24.600 162L39 148"/><circle cx="23.200" cy="163.500" r="2"/><circle cx="40.500" cy="146.600" r="2"/>
<!-- fib -->
<path d="M20.700 181.700H43.700M20.700 187.500H40.500M20.700 193.700H43.700M23.500 199.500H43.700"/><circle cx="42.500" cy="187.500" r="2"/><circle cx="21.500" cy="199.500" r="2"/>
<!-- pattern -->
<path d="M23.700 233.800L25.900 220.800M27.600 220.300L29.500 224M32 224.300L36.500 220.600M38.600 221.200L41 230.600M32.300 226.600L39.800 231.500M29.300 227.200L24.500 234.200"/>
<circle cx="26.300" cy="218.800" r="2"/><circle cx="38" cy="219.300" r="2"/><circle cx="30.500" cy="225.600" r="2"/><circle cx="23.300" cy="235.800" r="2"/><circle cx="41.500" cy="232.500" r="2"/>
<!-- forecast -->
<path d="M24.500 255.500H41.500M24.500 265.700H38.500M24.500 271.700H41.500"/><path d="M26 262L40 258" stroke-dasharray="1.500 2"/>
<circle cx="22.500" cy="255.500" r="2"/><circle cx="22.500" cy="265.700" r="2"/><circle cx="22.500" cy="271.700" r="2"/><circle cx="40.500" cy="265.700" r="2"/>
<!-- brush -->
<path d="M20.600 307.400H31.500C34.800 306.200 36.600 303 35.200 300.200C33.700 297.200 29.700 297 27.400 299.200C25 301.600 23.200 305 20.600 307.400zM35.900 292C34.400 294.600 35.400 298.300 38.600 297.400L45.600 291.200"/>
<!-- text -->
<path d="M25.300 330V326.700H39.900V330M32.600 326.700V343.400M29.900 343.400H35.400" stroke-width="1.200"/>
<!-- smile -->
<circle cx="32" cy="371" r="10.600"/><circle cx="28.900" cy="369.400" r="1.100" fill="#d1d4dc" stroke="none"/><circle cx="35.100" cy="369.400" r="1.100" fill="#d1d4dc" stroke="none"/><path d="M28.500 373c1.800 3.400 5.200 3.400 7 0"/>
<!-- ruler -->
<g transform="translate(32.100,420.100) rotate(-43)"><rect x="-13.200" y="-3.900" width="26.400" height="7.800" rx="1"/><path d="M-8.800 -3.900v3M-4.400 -3.900v3M0 -3.900v3M4.400 -3.900v3M8.800 -3.900v3"/></g>
<!-- zoom -->
<circle cx="30.500" cy="454.800" r="8.300"/><path d="M27.200 454.800H33.800M30.500 451.500V458.100M36.500 460.700L39.900 464"/>
<!-- magnet -->
<path d="M24.600 513.500v-10.500a7.400 7.400 0 0 1 14.800 0v10.500h-4.500v-10.500a2.900 2.900 0 0 0-5.800 0v10.500zM24.600 509.300h4.500M34.900 509.300h4.500"/>
<!-- pencil lock -->
<path d="M21.300 545.200V541.700L33 529.800L37.600 533L26.800 545.200zM31 532L35.500 535.200M21.300 541.700L25.500 545M23.400 543.300L33.300 533.600"/><rect x="33" y="545.700" width="9" height="5" rx=".8"/><path d="M35.300 545.700v-3a2.300 2.300 0 0 1 4.600 -.5"/>
<!-- open lock -->
<rect x="24.200" y="575.200" width="15.200" height="11.400" rx="1.800"/><path d="M28.700 575.200v-3.300a3.700 3.700 0 0 1 7.200 -1.200"/><path d="M31.800 579.800v2.600" stroke-width="1.500"/>
<!-- eye -->
<path d="M21.900 608.900c4.800-9.200 13.800-9.200 18.600 0c-4.800 9.200-13.800 9.200-18.600 0z"/><circle cx="31.100" cy="608.800" r="3.700"/><path d="M33 623.500c1-3 3.500-4.500 5.500-3c-.5 2.500-3 3.500-5.500 3zM39.500 619.500l3.500-2.500" stroke-width="1.100"/>
<!-- trash -->
<path d="M23.200 656.700H40.800M28.400 656.700v-2.300a1.200 1.200 0 0 1 1.200-1.200h4.700a1.200 1.200 0 0 1 1.200 1.200v2.300M25 656.700v12.800a2.200 2.200 0 0 0 2.200 2.200h9.600a2.200 2.200 0 0 0 2.200-2.200v-12.800M29.800 660.200v8M34.100 660.200v8"/>
</g>
<g stroke="#434651"><path d="M14 395H50M14 480.300H50M14 637.200H50"/></g>
<!-- tiny expand handles -->
<rect x="0.500" y="497.500" width="9" height="26" rx="2" fill="#11141f" stroke="#2a2e39"/><path d="M3.800 506L6.800 511L3.800 516" fill="none" stroke="#b2b5be" stroke-width="1.100"/>
<rect x="55.500" y="821.500" width="8" height="26" rx="3.500" fill="#11141f" stroke="#2a2e39"/><path d="M61 831.500L58.600 834.600L61 837.700" fill="none" stroke="#b2b5be" stroke-width="1.100"/>

<!-- ===== bottom bar ===== -->
<text x="78" y="890" font-size="12" fill="#e6e8ee">Powered by <tspan fill="#3a97f0" text-decoration="underline">TradingView</tspan></text>
<path d="M220.500 867V901M480.500 874V897M1746.500 874V897" stroke="#2a2e39"/>
<g font-size="14" fill="#d1d4dc"><text x="236" y="891">1D</text><text x="266" y="891">5D</text><text x="297.500" y="891">1M</text><text x="329.500" y="891">3M</text><text x="361.700" y="891">6M</text><text x="395.700" y="891">1Y</text><text x="424.500" y="891">5Y</text><text x="454" y="891">All</text>
<text x="1616" y="891" font-size="14.600">08:31:28 (UTC+2)</text><text x="1758" y="891">%</text><text x="1782" y="891">log</text><text x="1814.500" y="891">auto</text></g>
<g fill="none" stroke="#d1d4dc" stroke-width="1.200"><path d="M504.500 893.600h5.900a2.500 2.500 0 0 0 2.500-2.500v-10.100a2.500 2.500 0 0 0-2.500-2.500h-11.900a2.500 2.500 0 0 0-2.500 2.500v4.600M496 883.100h16.900M500.900 876v3.800M507.400 876v3.800M494 890.600h7M498.300 887.800l2.900 2.800l-2.900 2.800"/></g>
</svg>

</body></html>
